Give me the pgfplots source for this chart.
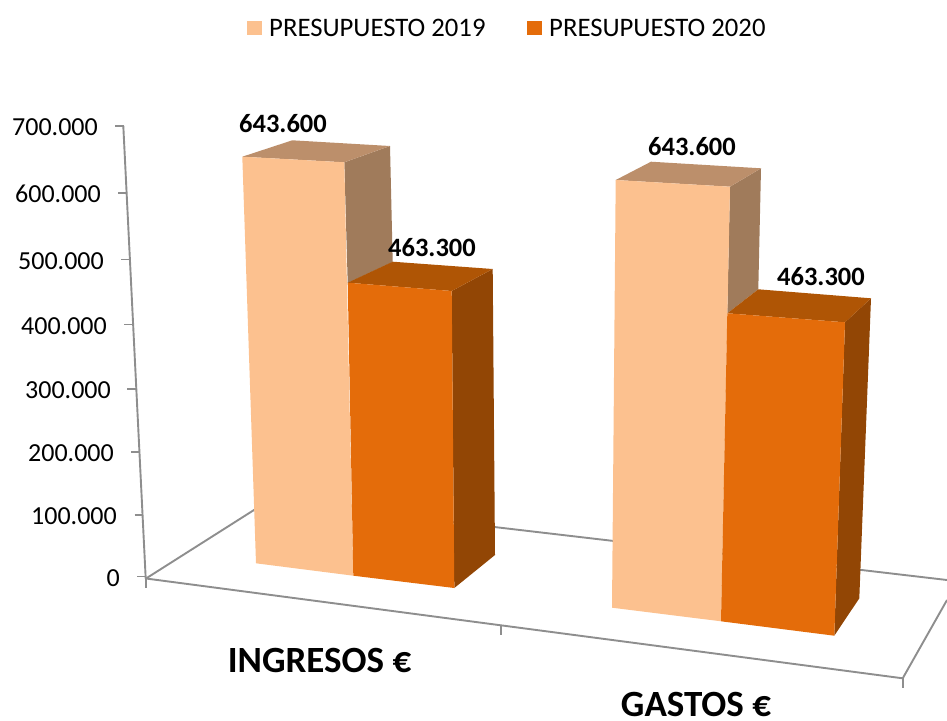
\documentclass[border=0pt]{standalone}
\usepackage{pgfplots}
\pgfplotsset{compat=1.18}
\usepackage{fontspec}
\setmainfont{Carlito}
\definecolor{lfront}{HTML}{FCC18F}
\definecolor{ltop}{HTML}{BC8F6B}
\definecolor{lside}{HTML}{A07B5B}
\definecolor{ofront}{HTML}{E46C0A}
\definecolor{otop}{HTML}{AF5505}
\definecolor{oside}{HTML}{924605}
\definecolor{axl}{HTML}{8E8E8E}
\tikzset{
  tl/.style={font=\fontsize{26}{26}\selectfont, anchor=east, text=black, inner sep=0pt},
  dl/.style={font=\fontsize{26.5}{26}\selectfont\bfseries, anchor=center, inner sep=0pt},
  cl/.style={font=\fontsize{37}{37}\selectfont\bfseries, anchor=center, inner sep=0pt},
  ll/.style={font=\fontsize{26.7}{27}\selectfont, anchor=west, text=black, inner sep=0pt},
  gl/.style={draw=axl, line width=1.9pt},
  ff/.style={fill=#1, draw=none},
}
\begin{document}
\begin{tikzpicture}
\useasboundingbox (0,0) rectangle (947pt,720pt);
\begin{axis}[
  anchor=south west, at={(0,0)},
  scale only axis, width=947pt, height=720pt,
  xmin=0, xmax=947, ymin=0, ymax=720, y dir=reverse,
  hide axis, no marks,
  every axis plot/.append style={line join=round},
]
% floor and value axis
\addplot[gl] coordinates {(123.3,126) (145.7,578.5)};
\addplot[gl] coordinates {(146,578.5) (902.7,678.3) (947,600)};
\addplot[gl] coordinates {(146,578.5) (268.8,500.6) (947,580)};
% ticks
\addplot[gl] coordinates {(115,126) (123.5,126)};
\addplot[gl] coordinates {(118,193) (127,193)};
\addplot[gl] coordinates {(121,259.5) (129.5,259.5)};
\addplot[gl] coordinates {(124,324.5) (132.7,324.5)};
\addplot[gl] coordinates {(127,389) (136,389)};
\addplot[gl] coordinates {(131,452) (139,452)};
\addplot[gl] coordinates {(134.5,515) (143,515)};
\addplot[gl] coordinates {(137,576.5) (146,576.5)};
\addplot[gl] coordinates {(145.7,578) (145.7,588)};
\addplot[gl] coordinates {(501,626) (501,635)};
\addplot[gl] coordinates {(902.7,678) (902.7,688)};
% INGRESOS 2019 = 643600
\addplot[ff=lside] coordinates {(344.3,162.3) (390,146) (392.7,262) (347.7,283)} --cycle;
\addplot[ff=ltop] coordinates {(242.3,156.7) (292.3,140.3) (390,146) (344.3,162.3)} --cycle;
\addplot[ff=lfront] coordinates {(242.3,156.7) (344.3,162.3) (353.3,575.7) (256,563.3)} --cycle;
% INGRESOS 2020 = 463300
\addplot[ff=oside] coordinates {(451.7,291) (492.7,269) (495,555) (454.3,588)} --cycle;
\addplot[ff=otop] coordinates {(347.7,282.7) (392.7,261.7) (492.7,269) (451.7,291)} --cycle;
\addplot[ff=ofront] coordinates {(347.7,282.7) (451.7,291) (454.3,588) (353.3,575.7)} --cycle;
% GASTOS 2019 = 643600
\addplot[ff=lside] coordinates {(730,186.7) (761,168.3) (758.3,289.3) (727.3,313.3)} --cycle;
\addplot[ff=ltop] coordinates {(615.7,180) (651,161.7) (761,168.3) (730,186.7)} --cycle;
\addplot[ff=lfront] coordinates {(615.7,180) (730,186.7) (721,621.3) (612,607.7)} --cycle;
% GASTOS 2020 = 463300
\addplot[ff=oside] coordinates {(845,322.3) (871,298.3) (859.3,598.3) (834.3,635.7)} --cycle;
\addplot[ff=otop] coordinates {(727.3,313.3) (758.3,289.3) (871,298.3) (845,322.3)} --cycle;
\addplot[ff=ofront] coordinates {(727.3,313.3) (845,322.3) (834.3,635.7) (721,621.3)} --cycle;
% legend swatches
\addplot[ff=lfront] coordinates {(247.3,20.7) (262,20.7) (262,35.3) (247.3,35.3)} --cycle;
\addplot[ff=ofront] coordinates {(527.3,20.7) (542,20.7) (542,35.3) (527.3,35.3)} --cycle;
% texts
\node[ll] at (axis cs:269,28) {PRESUPUESTO 2019};
\node[ll] at (axis cs:549,28) {PRESUPUESTO 2020};
\node[tl] at (axis cs:98,127) {700.000};
\node[tl] at (axis cs:101,194) {600.000};
\node[tl] at (axis cs:104,261) {500.000};
\node[tl] at (axis cs:107,326) {400.000};
\node[tl] at (axis cs:111,390) {300.000};
\node[tl] at (axis cs:114,453) {200.000};
\node[tl] at (axis cs:117,516) {100.000};
\node[tl] at (axis cs:120,578) {0};
\node[dl] at (axis cs:283,124) {643.600};
\node[dl] at (axis cs:432,248) {463.300};
\node[dl] at (axis cs:692,147) {643.600};
\node[dl] at (axis cs:821,277) {463.300};
\node[cl] at (axis cs:319.5,660) {INGRESOS €};
\node[cl] at (axis cs:696,704.5) {GASTOS €};
\end{axis}
\end{tikzpicture}
\end{document}
